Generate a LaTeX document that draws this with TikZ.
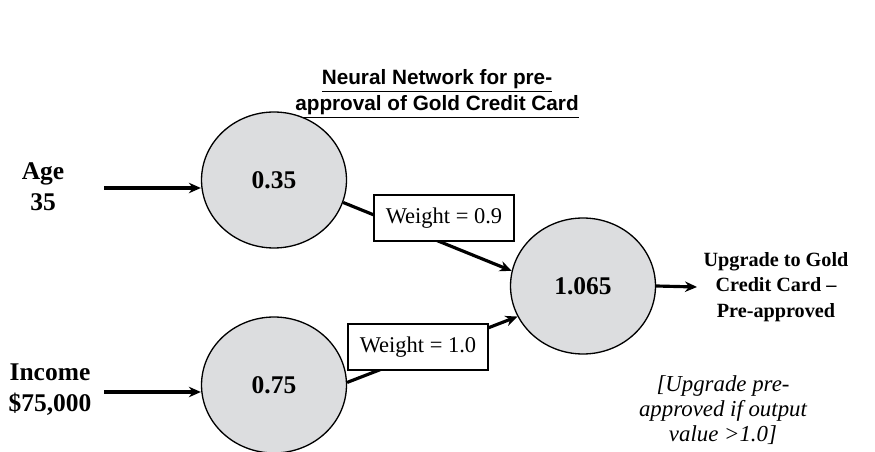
\documentclass[tikz,border=0pt]{standalone}
\usepackage{fontspec}
\setmainfont{Liberation Serif}
\newfontfamily\judulfont{Liberation Sans}
\usetikzlibrary{arrows.meta, positioning, shapes.geometric}
\definecolor{neurongray}{RGB}{220,221,223}

\begin{document}
\begin{tikzpicture}[
    x=0.02cm, y=-0.02cm,
    neuron/.style={draw, ellipse, fill=neurongray, line width=0.75pt,
                   minimum width=2.9cm, minimum height=2.72cm,
                   font=\fontsize{14.5}{16}\selectfont\bfseries},
    bobot/.style={draw, fill=white, line width=0.75pt, minimum width=2.8cm,
                  minimum height=0.92cm, font=\fontsize{12.8}{14}\selectfont},
    masukan/.style={align=center, font=\fontsize{14.5}{17.5}\selectfont\bfseries},
    panah/.style={-{Stealth[length=2.4mm, width=2.1mm]}, line width=1.8pt}
  ]
    \useasboundingbox (0,0) rectangle (875,452);
    % judul
    \node[align=center, font=\judulfont\fontsize{11.8}{14.8}\selectfont\bfseries] (judul) at (437,94)
      {\underline{Neural Network for pre-}\\\underline{approval of Gold Credit Card}};
    % neuron
    \node[neuron] (umur) at (274,180) {0.35};
    \node[neuron] (gaji) at (274,385) {0.75};
    \node[neuron] (hasil) at (583,286) {1.065};
    % masukan
    \coordinate (umurin) at (104,188);
    \coordinate (gajiin) at (104,392);
    \node[masukan] (lblumur) at (43,187) {Age\\35};
    \node[masukan] (lblgaji) at (50,390) {Income\\\$75,000};
    \draw[panah] (umurin) -- (umurin -| umur.west);
    \draw[panah] (gajiin) -- (gajiin -| gaji.west);
    % bobot
    \draw[panah] (umur.-18) -- (hasil.168);
    \draw[panah] (gaji.2) -- (hasil.205);
    \node[bobot] (w1) at (444,218) {Weight = 0.9};
    \node[bobot] (w2) at (418,347) {Weight = 1.0};
    % keluaran
    \coordinate (keluar) at (697,287);
    \draw[panah] (hasil.east) -- (keluar);
    \node[align=center, font=\fontsize{11.5}{14.5}\selectfont\bfseries] (lblhasil) at (776,287)
      {Upgrade to Gold\\Credit Card --\\Pre-approved};
    \node[align=center, font=\fontsize{13}{14.2}\selectfont\itshape] (catatan) at (723,410)
      {[Upgrade pre-\\approved if output\\value >1.0]};
  \end{tikzpicture}
\end{document}
